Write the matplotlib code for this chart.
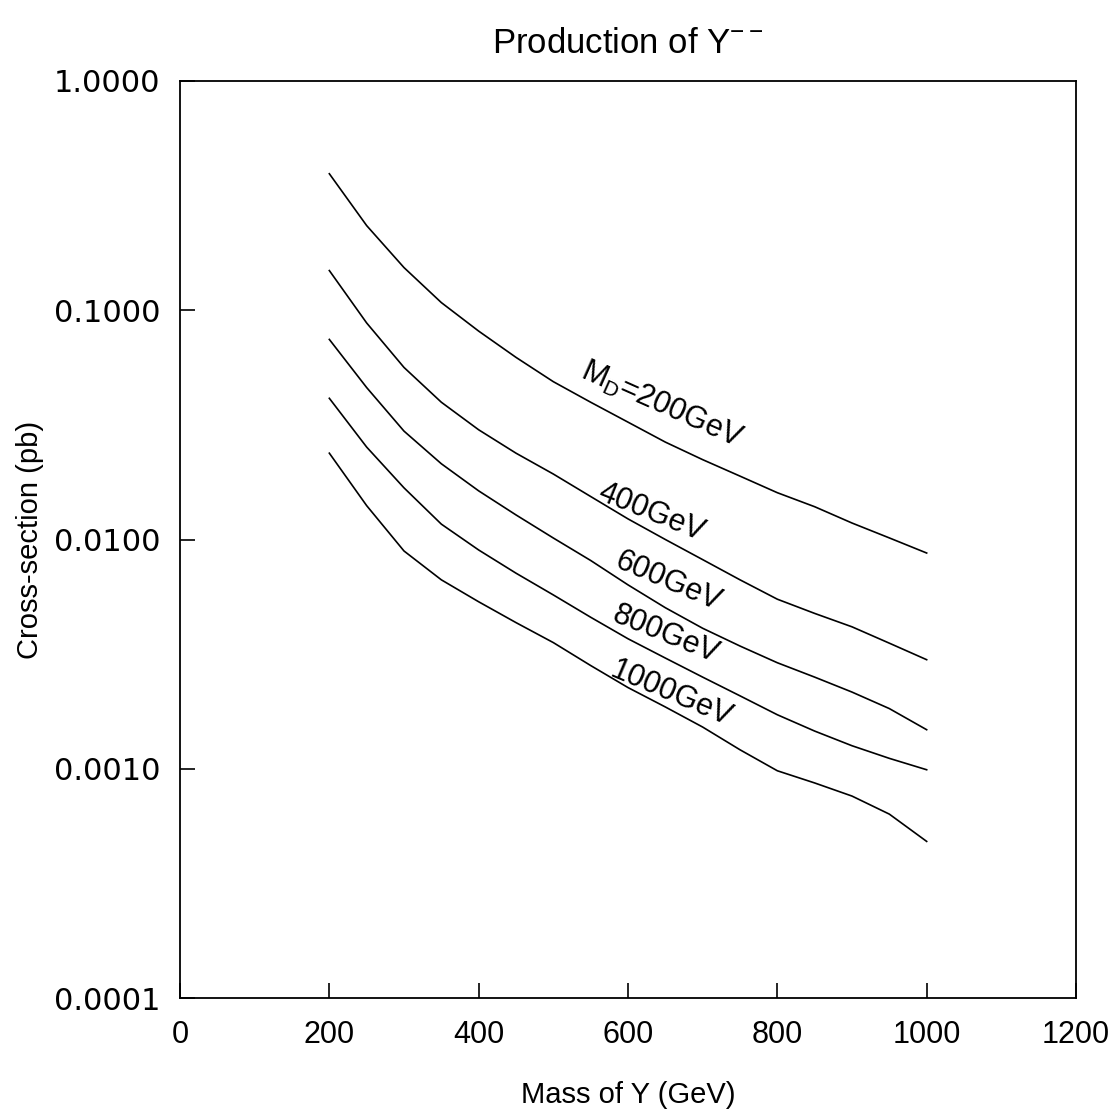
import numpy as np
import matplotlib
matplotlib.use("Agg")
import matplotlib.pyplot as plt
from matplotlib.ticker import FixedLocator, FixedFormatter

plt.rcParams['font.family'] = ['Liberation Sans', 'DejaVu Sans']
plt.rcParams['mathtext.fontset'] = 'custom'
plt.rcParams['mathtext.rm'] = 'Liberation Sans'
plt.rcParams['mathtext.it'] = 'Liberation Sans'

# Mass of Y (GeV)
mass = [200, 250, 300, 350, 400, 450, 500, 550, 600, 650, 700, 750, 800, 850, 900, 950, 1000]

# cross-section (pb) for each M_D
xs_200 = [0.394, 0.234, 0.1535, 0.108, 0.0811, 0.0623, 0.0488, 0.0397, 0.0325,
          0.0266, 0.0223, 0.0189, 0.0160, 0.0139, 0.0118, 0.01016, 0.00873]
xs_400 = [0.149, 0.088, 0.0563, 0.0397, 0.0301, 0.0238, 0.0193, 0.0154, 0.0123,
          0.0100, 0.00817, 0.00667, 0.00549, 0.00476, 0.00416, 0.00353, 0.00299]
xs_600 = [0.0746, 0.0460, 0.0297, 0.0214, 0.0163, 0.0128, 0.01015, 0.0081, 0.00634,
          0.00504, 0.0041, 0.00343, 0.0029, 0.00251, 0.00216, 0.00183, 0.00148]
xs_800 = [0.0413, 0.0253, 0.0168, 0.01167, 0.0090, 0.00713, 0.00573, 0.00458, 0.00369,
          0.00304, 0.00251, 0.00208, 0.00172, 0.00146, 0.00126, 0.00111, 0.00099]
xs_1000 = [0.0238, 0.01405, 0.00891, 0.00667, 0.00535, 0.00434, 0.00355, 0.00282, 0.00226,
           0.00186, 0.00152, 0.00121, 0.00098, 0.000867, 0.00076, 0.000634, 0.000482]

curves = [xs_200, xs_400, xs_600, xs_800, xs_1000]
curve_labels = [r'$\mathrm{M_D}$=200GeV', '400GeV', '600GeV', '800GeV', '1000GeV']
label_pos = [(645, 0.0385), (631, 0.0131), (654, 0.00653), (651, 0.00384), (658, 0.00212)]
label_rot = [-24, -22, -23, -22, -23]

x_ticks = [0, 200, 400, 600, 800, 1000, 1200]
y_ticks = [0.0001, 0.001, 0.01, 0.1, 1.0]
y_tick_labels = ['0.0001', '0.0010', '0.0100', '0.1000', '1.0000']

fig = plt.figure(figsize=(11.14, 11.14), dpi=100)
ax = fig.add_axes([180 / 1114, 1 - 998 / 1114, 896 / 1114, 917 / 1114])

for ys in curves:
    ax.plot(mass, ys, color='black', linewidth=1.2)

for text, (lx, ly), rot in zip(curve_labels, label_pos, label_rot):
    ax.text(lx, ly, text, fontsize=22, rotation=rot, ha='center', va='center',
            rotation_mode='anchor')

ax.set_yscale('log')
ax.set_xlim(0, 1200)
ax.set_ylim(0.0001, 1.0)
ax.xaxis.set_major_locator(FixedLocator(x_ticks))
ax.yaxis.set_major_locator(FixedLocator(y_ticks))
ax.yaxis.set_major_formatter(FixedFormatter(y_tick_labels))
ax.yaxis.set_minor_locator(FixedLocator([]))
ax.tick_params(direction='in', length=11, width=1.2, labelsize=22, pad=16)
ax.tick_params(axis='y', pad=14)
for lbl in ax.get_yticklabels():
    lbl.set_family('DejaVu Sans')
    lbl.set_fontsize(22)
for s in ax.spines.values():
    s.set_linewidth(1.3)

ax.set_xlabel('Mass of Y (GeV)', fontsize=21, labelpad=22)
ax.set_ylabel('Cross-section (pb)', fontsize=21)
ax.yaxis.set_label_coords(-0.152, 0.5)
ax.set_title(r'Production of Y$^{--}$', fontsize=25, pad=20)

fig.savefig('out.png', dpi=100)
